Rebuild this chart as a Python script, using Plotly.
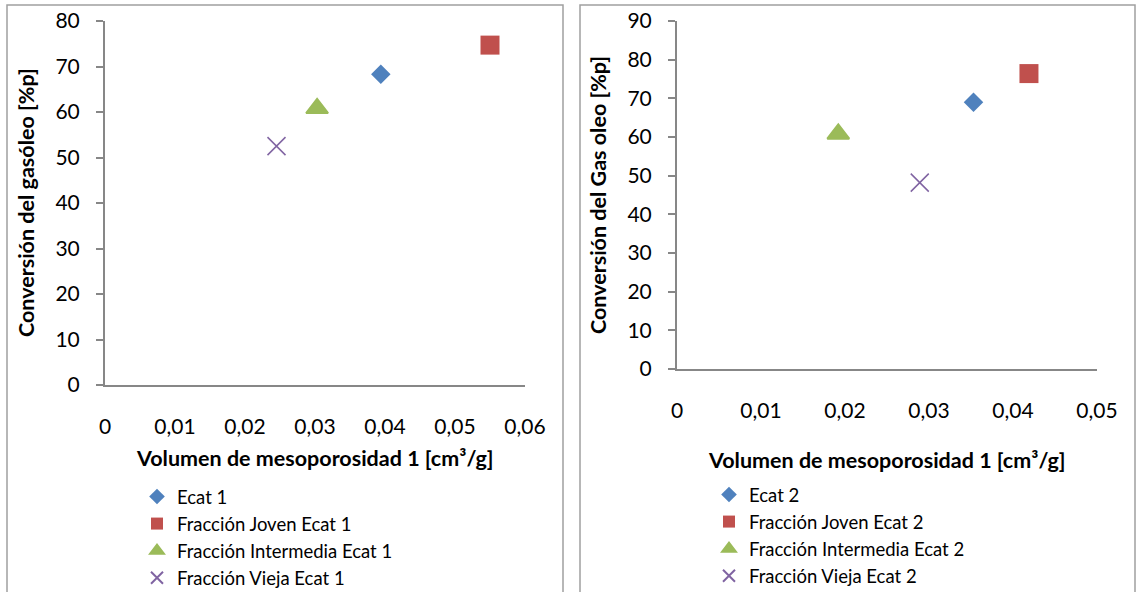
import plotly.graph_objects as go

# ---- data ----
series_names_1 = ["Ecat 1", "Fracción Joven Ecat 1", "Fracción Intermedia Ecat 1", "Fracción Vieja Ecat 1"]
x_vals_1 = [0.0394, 0.0550, 0.0303, 0.0245]
y_vals_1 = [68.3, 74.7, 60.8, 52.5]

series_names_2 = ["Ecat 2", "Fracción Joven Ecat 2", "Fracción Intermedia Ecat 2", "Fracción Vieja Ecat 2"]
x_vals_2 = [0.0353, 0.0419, 0.0192, 0.0289]
y_vals_2 = [69.0, 76.4, 60.8, 48.2]

x_ticks_1 = [0, 0.01, 0.02, 0.03, 0.04, 0.05, 0.06]
x_ticklabels_1 = ["0", "0,01", "0,02", "0,03", "0,04", "0,05", "0,06"]
x_ticks_2 = [0, 0.01, 0.02, 0.03, 0.04, 0.05]
x_ticklabels_2 = ["0", "0,01", "0,02", "0,03", "0,04", "0,05"]
y_ticks_1 = [0, 10, 20, 30, 40, 50, 60, 70, 80]
y_ticks_2 = [0, 10, 20, 30, 40, 50, 60, 70, 80, 90]

x_title = "Volumen de mesoporosidad 1 [cm³/g]"
y_title_1 = "Conversión del gasóleo [%p]"
y_title_2 = "Conversión del Gas oleo [%p]"

# ---- styles ----
W, H = 1137, 592
colors = ["#4F81BD", "#C0504D", "#9BBB59", "#8064A2"]
symbols = ["diamond", "square", "triangle-up", "x-thin"]
sizes = [15, 19, 19, 18]
line_w = [0, 0, 2, 1.5]
FONT = "Lato"
AX = "#878787"


def px(x):
    return x / W


def py(y):
    return 1 - y / H


fig = go.Figure()

for i in range(4):
    mk = dict(color=colors[i], symbol=symbols[i], size=sizes[i],
              line=dict(color=colors[i], width=line_w[i]))
    fig.add_trace(go.Scatter(x=[x_vals_1[i]], y=[y_vals_1[i]], mode="markers", name=series_names_1[i],
                             marker=mk, xaxis="x", yaxis="y", legend="legend"))
for i in range(4):
    mk = dict(color=colors[i], symbol=symbols[i], size=sizes[i],
              line=dict(color=colors[i], width=line_w[i]))
    fig.add_trace(go.Scatter(x=[x_vals_2[i]], y=[y_vals_2[i]], mode="markers", name=series_names_2[i],
                             marker=mk, xaxis="x2", yaxis="y2", legend="legend2"))

tickfont = dict(family=FONT, size=21, color="black")
xcommon = dict(showgrid=False, zeroline=False, showline=True, linecolor=AX, linewidth=2,
               ticks="", tickfont=tickfont, ticklabelstandoff=22, automargin=False)
ycommon = dict(showgrid=False, zeroline=False, showline=True, linecolor=AX, linewidth=2,
               ticks="outside", ticklen=7, tickwidth=1.5, tickcolor=AX, tickfont=tickfont,
               ticklabelstandoff=12, automargin=False)

legfont = dict(family=FONT, size=18.5, color="black")

fig.update_layout(
    template="none",
    width=W, height=H, autosize=False,
    margin=dict(l=0, r=0, t=0, b=0, pad=0, autoexpand=False),
    paper_bgcolor="white", plot_bgcolor="white",
    xaxis=dict(domain=[px(105), px(525)], range=[0, 0.06], tickvals=x_ticks_1, ticktext=x_ticklabels_1,
               anchor="y", **xcommon),
    yaxis=dict(domain=[py(385), py(21)], range=[0, 80], tickvals=y_ticks_1, anchor="x", **ycommon),
    xaxis2=dict(domain=[px(677), px(1097)], range=[0, 0.05], tickvals=x_ticks_2, ticktext=x_ticklabels_2,
                anchor="y2", **xcommon),
    yaxis2=dict(domain=[py(369), py(21)], range=[0, 90], tickvals=y_ticks_2, anchor="x2", **ycommon),
    legend=dict(x=px(137), y=py(478), xanchor="left", yanchor="top", bgcolor="rgba(0,0,0,0)",
                font=legfont, itemsizing="constant"),
    legend2=dict(x=px(709), y=py(476), xanchor="left", yanchor="top", bgcolor="rgba(0,0,0,0)",
                 font=legfont, itemsizing="constant"),
    showlegend=True,
)

titlefont = dict(family=FONT, size=21.5, color="black", weight="bold")
fig.add_annotation(text=x_title, x=px(315), y=py(458), xref="paper", yref="paper",
                   showarrow=False, font=titlefont, xanchor="center", yanchor="middle")
fig.add_annotation(text=x_title, x=px(887), y=py(460), xref="paper", yref="paper",
                   showarrow=False, font=titlefont, xanchor="center", yanchor="middle")
fig.add_annotation(text=y_title_1, x=px(26), y=py(203), xref="paper", yref="paper", textangle=-90,
                   showarrow=False, font=titlefont, xanchor="center", yanchor="middle")
fig.add_annotation(text=y_title_2, x=px(598), y=py(195), xref="paper", yref="paper", textangle=-90,
                   showarrow=False, font=titlefont, xanchor="center", yanchor="middle")

# panel borders
fig.add_shape(type="rect", xref="paper", yref="paper", x0=px(7), x1=px(563), y0=-0.05, y1=py(5),
              line=dict(color="#a0a0a0", width=1.5))
fig.add_shape(type="rect", xref="paper", yref="paper", x0=px(580), x1=px(1135), y0=-0.05, y1=py(5),
              line=dict(color="#a0a0a0", width=1.5))

fig.write_html("out.html")
